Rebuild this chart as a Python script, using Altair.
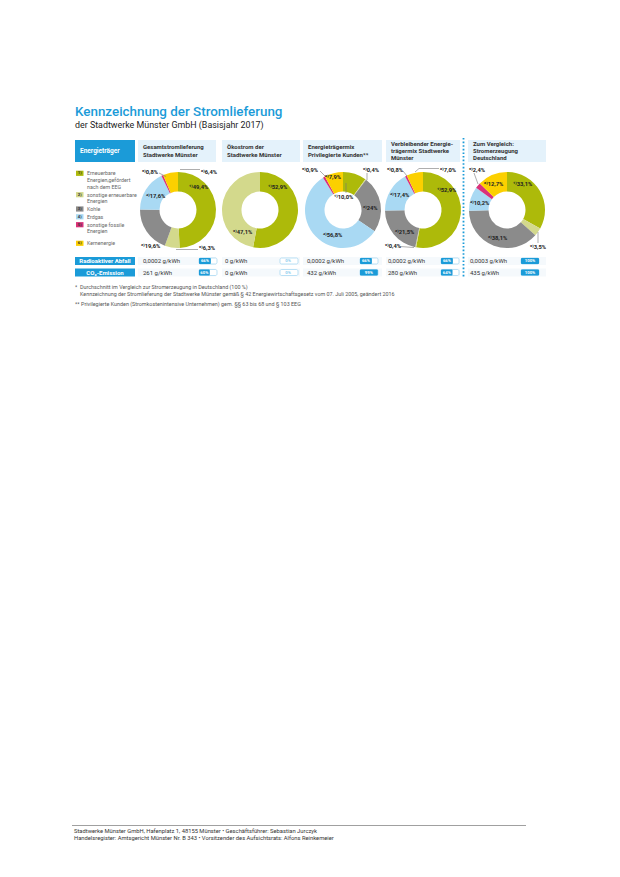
import altair as alt
import pandas as pd

M = 8                      # html page margin
W, H = 604, 861            # drawing area (page 620x877 minus margins)
FONT = "Roboto"
BLUE = "#1b9bd8"
LIGHT = "#e4f2fb"
DARK = "#333333"

# ------------------------------------------------------------------ data
cat_keys = [1, 2, 3, 4, 5, 6]
cat_names = ["Erneuerbare Energien, gefördert nach dem EEG",
             "sonstige erneuerbare Energien", "Kohle", "Erdgas",
             "sonstige fossile Energien", "Kernenergie"]
legend_lines = [["Erneuerbare", "Energien,gefördert", "nach dem EEG"],
                ["sonstige erneuerbare", "Energien"], ["Kohle"], ["Erdgas"],
                ["sonstige fossile", "Energien"], ["Kernenergie"]]
cat_colors = ["#adba0a", "#d3d98c", "#8b8b8b", "#a9d9f3", "#d9327a", "#fcd000"]

col_headers = [["Gesamtstromlieferung", "Stadtwerke Münster"],
               ["Ökostrom der", "Stadtwerke Münster"],
               ["Energieträgermix", "Privilegierte Kunden**"],
               ["Verbleibender Energie-", "trägermix Stadtwerke", "Münster"],
               ["Zum Vergleich:", "Stromerzeugung", "Deutschland"]]

mix_gesamt = [49.4, 6.3, 19.6, 17.6, 0.8, 6.4]
mix_oeko = [52.9, 47.1, 0.0, 0.0, 0.0, 0.0]
mix_priv = [10.0, 0.4, 24.0, 56.8, 0.9, 7.9]
mix_rest = [52.9, 0.4, 21.5, 17.4, 0.8, 7.0]
mix_de = [33.1, 3.5, 38.1, 10.2, 2.4, 12.7]
mixes = [mix_gesamt, mix_oeko, mix_priv, mix_rest, mix_de]

row_names = ["Radioaktiver Abfall", "CO₂-Emission"]
waste_labels = ["0,0002 g/kWh", "0 g/kWh", "0,0002 g/kWh", "0,0002 g/kWh", "0,0003 g/kWh"]
waste_share = [66, 0, 66, 66, 100]
co2_labels = ["261 g/kWh", "0 g/kWh", "432 g/kWh", "280 g/kWh", "435 g/kWh"]
co2_share = [60, 0, 99, 64, 100]

footnotes = [
    (75, 287, "*"),
    (80, 287, "Durchschnitt im Vergleich zur Stromerzeugung in Deutschland (100 %)"),
    (80, 294, "Kennzeichnung der Stromlieferung der Stadtwerke Münster gemäß § 42 Energiewirtschaftsgesetz vom 07. Juli 2005, geändert 2016"),
    (75, 303.5, "** Privilegierte Kunden (Stromkostenintensive Unternehmen) gem. §§ 63 bis 68 und § 103 EEG"),
]
footer_lines = ["Stadtwerke Münster GmbH, Hafenplatz 1, 48155 Münster • Geschäftsführer: Sebastian Jurczyk",
                "Handelsregister: Amtsgericht Münster Nr. B 343 • Vorsitzender des Aufsichtsrats: Alfons Reinkemeier"]

# ------------------------------------------------------------------ layout (page pixels)
col_x = [(138, 216), (222, 300), (303, 382), (386, 460), (468, 546)]
donut_cx = [178, 260, 343, 423, 507]
donut_cy = 210
R_OUT, R_IN = 38, 18.5
legend_cy = [173.3, 194.7, 209, 216.8, 224.7, 243.3]
# label anchor (left, middle) per donut and category
label_pos = [
    [(189, 187), (199, 247.5), (141, 246), (146, 196), (142, 172), (201, 172)],
    [(268, 187), (233, 232), None, None, None, None],
    [(334, 197), (363, 170), (363, 208), (323, 235), (302, 170), (325, 177)],
    [(437, 190), (385, 246), (395, 232), (390, 195), (387, 170), (440, 170)],
    [(513, 184), (530, 247), (488, 238), (470, 203), (469, 170), (484, 184)],
]
leaders = [(159, 173, 166, 176.5), (180, 169.5, 200, 169.5), (176, 249.5, 198, 249.5),
           (320, 171, 326, 177), (367, 173, 367, 180), (346, 193, 346, 183),
           (403, 171, 407, 176), (415, 172, 419, 168.5), (419, 168.5, 439, 168.5),
           (400, 246.5, 414, 247.5),
           (474, 173, 478, 184), (538, 232, 538, 243)]
row_y = [261, 272.5]
value_x = [143, 225, 307, 388, 470]
badge_x = [199, 280, 360, 441, 521]
BADGE_W = 18


# ------------------------------------------------------------------ helpers
def pos(df):
    df = df.copy()
    for c in ["x", "x2"]:
        if c in df:
            df[c] = df[c] - M
    for c in ["y", "y2"]:
        if c in df:
            df[c] = df[c] - M
    return df


def T(rows, color=DARK, size=6.0, weight="normal", align="left", baseline="middle"):
    df = pos(pd.DataFrame(rows, columns=["x", "y", "t"]))
    return alt.Chart(df).mark_text(align=align, baseline=baseline, font=FONT, fontSize=size,
                                   fontWeight=weight, color=color).encode(
        x=alt.X("x:Q", scale=None, axis=None), y=alt.Y("y:Q", scale=None, axis=None), text="t:N")


def R(rows, **kw):
    if len(rows[0]) == 5:
        df = pos(pd.DataFrame(rows, columns=["x", "y", "x2", "y2", "c"]))
        enc = dict(fill=alt.Fill("c:N", scale=None))
    else:
        df = pos(pd.DataFrame(rows, columns=["x", "y", "x2", "y2"]))
        enc = {}
    return alt.Chart(df).mark_rect(**kw).encode(
        x=alt.X("x:Q", scale=None, axis=None), x2="x2:Q",
        y=alt.Y("y:Q", scale=None, axis=None), y2="y2:Q", **enc)


def L(rows, **kw):
    df = pos(pd.DataFrame(rows, columns=["x", "y", "x2", "y2"]))
    return alt.Chart(df).mark_rule(**kw).encode(
        x=alt.X("x:Q", scale=None, axis=None), x2="x2:Q",
        y=alt.Y("y:Q", scale=None, axis=None), y2="y2:Q")


SUP = {1: "¹", 2: "²", 3: "³", 4: "⁴", 5: "⁵", 6: "⁶"}


def fmt(v):
    if v >= 20 and float(v).is_integer():
        return f"{int(v)}%"
    return f"{v:.1f}".replace(".", ",") + "%"


layers = []

# title
layers.append(T([(75, 115.7, "Kennzeichnung der Stromlieferung")], color=BLUE, size=13.4,
                weight=500, baseline="alphabetic"))
layers.append(T([(75, 128.3, "der Stadtwerke Münster GmbH (Basisjahr 2017)")], color="#222222",
                size=8.9, baseline="alphabetic"))

# header row
layers.append(R([(75, 140, 135, 162)], fill=BLUE))
layers.append(T([(80, 151, "Energieträger")], color="white", size=6.5, weight="bold"))
layers.append(R([(a, 140, b, 162) for a, b in col_x], fill=LIGHT))
hdr = []
for (a, b), lines in zip(col_x, col_headers):
    ys = [147, 155] if len(lines) == 2 else [143.5, 150.5, 157.5]
    for y, s in zip(ys, lines):
        hdr.append((a + 5, y, s))
layers.append(T(hdr, color=DARK, size=6, weight="bold"))

# legend
layers.append(R([(76, cy - 2.6, 83.5, cy + 2.6, c) for cy, c in zip(legend_cy, cat_colors)]))
layers.append(T([(79.8, cy, f"{k})") for cy, k in zip(legend_cy, cat_keys)], color=DARK,
                size=4.2, weight="bold", align="center"))
leg = []
for cy, lines in zip(legend_cy, legend_lines):
    for i, s in enumerate(lines):
        leg.append((87, cy + i * 6.7, s))
layers.append(T(leg, color="#666666", size=5.3))

# donuts
arc_rows = []
for j, mix in enumerate(mixes):
    for k, (name, v) in enumerate(zip(cat_names, mix)):
        if v > 0:
            arc_rows.append({"d": j, "k": k, "cat": name, "v": v})
arc_df = pd.DataFrame(arc_rows)
for j in range(len(mixes)):
    layers.append(
        alt.Chart(arc_df).transform_filter(alt.datum.d == j)
        .mark_arc(innerRadius=R_IN, outerRadius=R_OUT, x=donut_cx[j] - M, y=donut_cy - M)
        .encode(theta=alt.Theta("v:Q", stack=True),
                color=alt.Color("cat:N", scale=alt.Scale(domain=cat_names, range=cat_colors),
                                legend=None),
                order=alt.Order("k:Q", sort="ascending"))
    )

# leader lines and labels
layers.append(L(leaders, color="#777777", strokeWidth=0.6))
lab = []
for j, mix in enumerate(mixes):
    for k, v in enumerate(mix):
        p = label_pos[j][k]
        if v > 0 and p is not None:
            lab.append((p[0], p[1], f"{SUP[k + 1]}⁾{fmt(v)}"))
layers.append(T(lab, color="#222222", size=5.8, weight="bold"))

# dotted separator
layers.append(L([(463.5, 138, 463.5, 278)], color=BLUE, strokeWidth=1.8, strokeDash=[1.6, 2.0]))

# table
layers.append(R([(a, y - 4, b, y + 4) for y in row_y for a, b in col_x], fill="#f5f9fc"))
layers.append(R([(75, y - 4, 135, y + 4) for y in row_y], fill=BLUE))
layers.append(T([(105, y, s) for y, s in zip(row_y, row_names)], color="white", size=6,
                weight="bold", align="center"))
vals = [(x, row_y[0], s) for x, s in zip(value_x, waste_labels)] + \
       [(x, row_y[1], s) for x, s in zip(value_x, co2_labels)]
layers.append(T(vals, color=DARK, size=6))

# badges
layers.append(R([(x, y - 3, x + BADGE_W, y + 3) for y in row_y for x in badge_x],
                fill="white", stroke="#8fcdee", strokeWidth=0.6, cornerRadius=1.5))
for j, x0 in enumerate(badge_x):
    bdf = pos(pd.DataFrame({"y": [row_y[0] - 3, row_y[1] - 3], "y2": [row_y[0] + 3, row_y[1] + 3],
                            "z": [0, 0], "share": [waste_share[j], co2_share[j]]}))
    layers.append(
        alt.Chart(bdf).mark_rect(fill=BLUE, cornerRadius=1).encode(
            x=alt.X("z:Q", scale=alt.Scale(domain=[0, 100], range=[x0 - M, x0 + BADGE_W - M]), axis=None),
            x2="share:Q",
            y=alt.Y("y:Q", scale=None, axis=None), y2="y2:Q")
    )
btxt_w, btxt_0 = [], []
for y, shares in zip(row_y, [waste_share, co2_share]):
    for x0, s in zip(badge_x, shares):
        if s > 0:
            btxt_w.append((x0 + BADGE_W * s / 200, y, f"{s}%"))
        else:
            btxt_0.append((x0 + BADGE_W / 2 - 1, y, f"{s}%"))
layers.append(T(btxt_w, color="white", size=4.3, weight="bold", align="center"))
layers.append(T(btxt_0, color="#8fcdee", size=4.3, weight="bold", align="center"))

# footnotes
layers.append(T(footnotes, color="#555555", size=5.4))

# footer
layers.append(L([(72, 825.5, 526, 825.5)], color="#888888", strokeWidth=0.8))
layers.append(T([(74, 830.5, footer_lines[0]), (74, 838, footer_lines[1])], color="#333333", size=5.8))

chart = alt.layer(*layers).resolve_scale(
    x="independent", y="independent", theta="independent"
).properties(
    width=W, height=H, padding=0, autosize=alt.AutoSizeParams(type="none"),
    background="white"
).configure_view(stroke=None)

chart.save("out.html", embed_options={"renderer": "svg", "actions": False})
